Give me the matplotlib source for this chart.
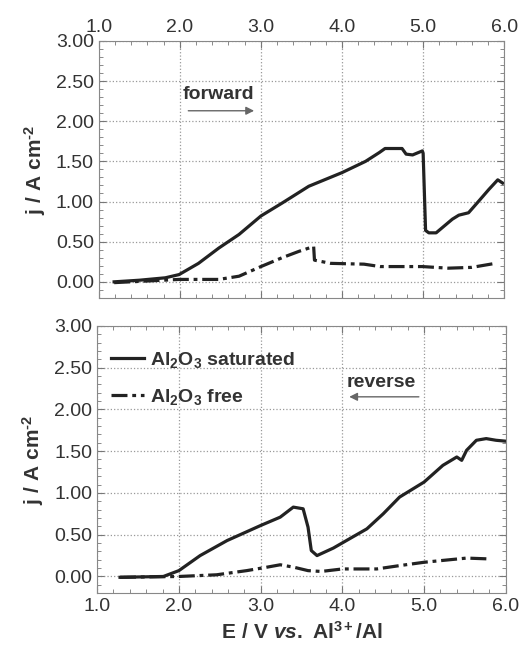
import matplotlib
matplotlib.use('Agg')
import matplotlib.pyplot as plt
from matplotlib.ticker import MultipleLocator, FormatStrFormatter

plt.rcParams['font.family'] = ['Liberation Sans', 'DejaVu Sans']
plt.rcParams['mathtext.fontset'] = 'custom'
plt.rcParams['mathtext.rm'] = 'Liberation Sans:bold'
plt.rcParams['mathtext.it'] = 'Liberation Sans:bold:italic'
plt.rcParams['mathtext.bf'] = 'Liberation Sans:bold'
plt.rcParams['mathtext.default'] = 'rm'

# forward scan, Al2O3 saturated
fwd_sat_E = [1.19, 1.50, 1.82, 1.99, 2.23, 2.48, 2.73, 3.00, 3.26, 3.59, 4.00, 4.29, 4.46, 4.53,
             4.74, 4.79, 4.87, 4.99, 5.00, 5.03, 5.07, 5.16, 5.36, 5.44, 5.56, 5.69, 5.81, 5.92, 5.98]
fwd_sat_j = [0.00, 0.02, 0.05, 0.09, 0.23, 0.42, 0.59, 0.82, 0.98, 1.19, 1.36, 1.50, 1.61, 1.66,
             1.66, 1.59, 1.58, 1.63, 1.60, 0.64, 0.61, 0.61, 0.78, 0.83, 0.86, 1.01, 1.15, 1.27, 1.23]
# forward scan, Al2O3 free
fwd_free_E = [1.19, 1.99, 2.48, 2.73, 3.00, 3.26, 3.47, 3.65, 3.66, 3.86, 4.27, 4.47, 4.99, 5.31, 5.60, 5.89]
fwd_free_j = [-0.01, 0.03, 0.03, 0.07, 0.19, 0.30, 0.38, 0.44, 0.27, 0.23, 0.22, 0.19, 0.19, 0.17, 0.18, 0.23]

# reverse scan, Al2O3 saturated
rev_sat_E = [1.28, 1.81, 2.00, 2.26, 2.59, 3.00, 3.24, 3.36, 3.40, 3.52, 3.58, 3.62, 3.69, 3.89,
             4.05, 4.30, 4.50, 4.70, 5.00, 5.23, 5.40, 5.46, 5.52, 5.64, 5.76, 5.88, 5.99]
rev_sat_j = [-0.01, 0.00, 0.07, 0.25, 0.43, 0.61, 0.71, 0.80, 0.83, 0.81, 0.59, 0.31, 0.25, 0.34,
             0.43, 0.57, 0.75, 0.95, 1.13, 1.33, 1.43, 1.39, 1.51, 1.63, 1.65, 1.63, 1.62]
# reverse scan, Al2O3 free
rev_free_E = [1.28, 2.00, 2.46, 2.83, 3.07, 3.24, 3.41, 3.58, 3.74, 4.00, 4.42, 4.70, 5.00, 5.31, 5.52, 5.80]
rev_free_j = [-0.01, 0.00, 0.02, 0.07, 0.11, 0.14, 0.11, 0.07, 0.06, 0.09, 0.09, 0.13, 0.17, 0.20, 0.22, 0.21]

text_c = '#333333'
line_c = '#222222'
free_ls = (0, (5, 1.5, 1.2, 1.5))

fig = plt.figure(figsize=(5.28, 6.49), dpi=100)
ax1 = fig.add_axes([0.187, 0.541, 0.768, 0.396])
ax2 = fig.add_axes([0.184, 0.086, 0.774, 0.412])

for ax in (ax1, ax2):
    ax.set_xlim(1.0, 6.0)
    ax.set_ylim(-0.2, 3.0)
    ax.xaxis.set_major_locator(MultipleLocator(1.0))
    ax.xaxis.set_minor_locator(MultipleLocator(0.2))
    ax.yaxis.set_major_locator(MultipleLocator(0.5))
    ax.yaxis.set_minor_locator(MultipleLocator(0.1))
    ax.xaxis.set_major_formatter(FormatStrFormatter('%.1f'))
    ax.yaxis.set_major_formatter(FormatStrFormatter('%.2f'))
    ax.grid(True, which='major', linestyle=':', color='#999999', linewidth=0.9)
    ax.tick_params(which='both', direction='in', top=True, right=True, colors='#777777',
                   labelcolor=text_c, labelsize=14)
    ax.tick_params(which='major', length=5)
    ax.tick_params(which='minor', length=3)
    for sp in ax.spines.values():
        sp.set_color('#888888')
        sp.set_linewidth(0.8)
    ax.set_ylabel(r'$\mathrm{j\ /\ A\ cm^{\text{-}2}}$', fontsize=15, color=text_c, labelpad=6)

ax1.tick_params(axis='x', labeltop=True, labelbottom=False)

ax1.plot(fwd_sat_E, fwd_sat_j, color=line_c, lw=2.3)
ax1.plot(fwd_free_E, fwd_free_j, color=line_c, lw=2.3, linestyle=free_ls)
ax1.text(2.48, 2.33, 'forward', ha='center', va='center', fontsize=14, fontweight='bold', color=text_c)
ax1.annotate('', xy=(2.95, 2.13), xytext=(2.07, 2.13),
             arrowprops=dict(arrowstyle='-|>', color='#666666', lw=1.0, mutation_scale=12))

ax2.plot(rev_sat_E, rev_sat_j, color=line_c, lw=2.3, label=r'Al$_2$O$_3$ saturated')
ax2.plot(rev_free_E, rev_free_j, color=line_c, lw=2.3, linestyle=free_ls, label=r'Al$_2$O$_3$ free')
ax2.text(4.48, 2.32, 'reverse', ha='center', va='center', fontsize=14, fontweight='bold', color=text_c)
ax2.annotate('', xy=(4.05, 2.15), xytext=(4.97, 2.15),
             arrowprops=dict(arrowstyle='-|>', color='#666666', lw=1.0, mutation_scale=12))
leg = ax2.legend(loc='upper left', bbox_to_anchor=(0.0, 0.96), frameon=False,
                 prop={'weight': 'bold', 'size': 14},
                 handlelength=1.7, handletextpad=0.3, labelspacing=0.85, borderaxespad=0.3)
for t in leg.get_texts():
    t.set_color(text_c)

ax2.set_xlabel(r'$\mathrm{E\ /\ V}\ \mathit{vs.}\ \mathrm{Al^{3+}/Al}$', fontsize=15, color=text_c, labelpad=4)

fig.savefig('out.png', dpi=100)
